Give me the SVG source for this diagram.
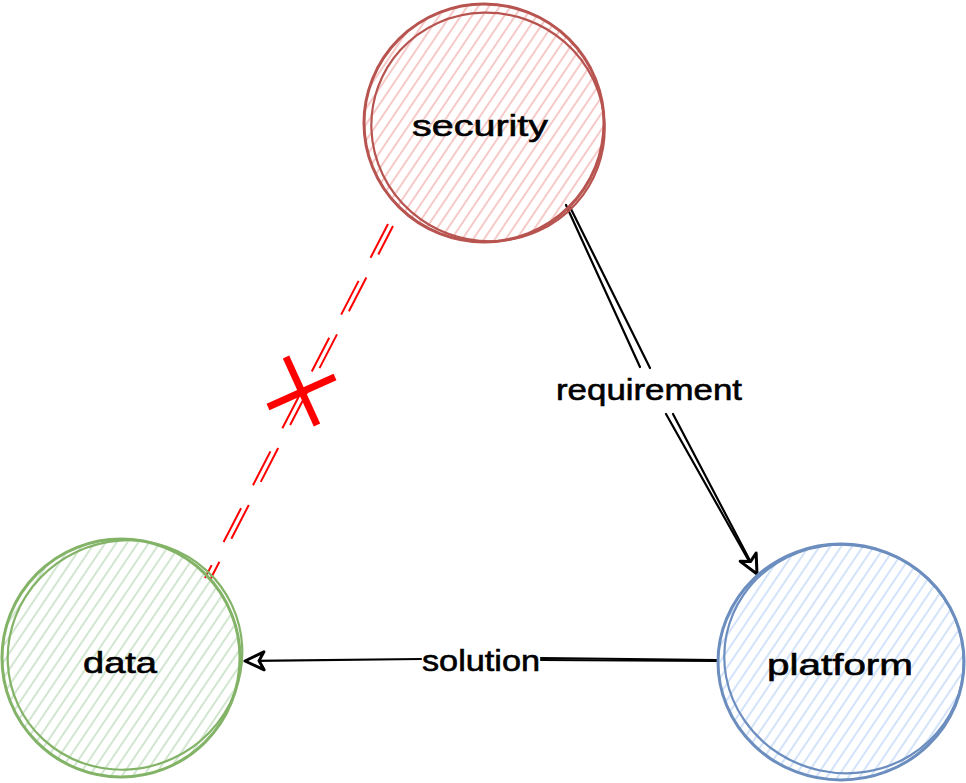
<svg xmlns="http://www.w3.org/2000/svg" width="966" height="783" viewBox="0 0 966 783">
<style>
.lbl{font-family:"Comic Sans MS","Liberation Sans","DejaVu Sans",sans-serif;font-size:30px;fill:#000;stroke:#000;stroke-width:0.6;text-anchor:middle}
.edge{fill:none;stroke:#000;stroke-width:2.2;stroke-linecap:round}
.red{fill:none;stroke:#ff0000;stroke-width:2;stroke-dasharray:38 26}
</style>
<defs>
<pattern id="hr" width="9" height="9" patternUnits="userSpaceOnUse" patternTransform="rotate(-56)"><line x1="0" y1="4" x2="9" y2="4" stroke="#f3bdba" stroke-width="1.6"/></pattern>
<pattern id="hg" width="9" height="9" patternUnits="userSpaceOnUse" patternTransform="rotate(-56)"><line x1="0" y1="4" x2="9" y2="4" stroke="#c6e0c4" stroke-width="1.6"/></pattern>
<pattern id="hb" width="9" height="9" patternUnits="userSpaceOnUse" patternTransform="rotate(-56)"><line x1="0" y1="4" x2="9" y2="4" stroke="#c8dcf8" stroke-width="1.6"/></pattern>
<marker id="arr" viewBox="0 0 26 26" refX="23" refY="13" markerWidth="26" markerHeight="26" markerUnits="userSpaceOnUse" orient="auto">
<path d="M23,13 L4,4 L9,13 L4,22 Z" fill="#fff" stroke="#000" stroke-width="3" stroke-linejoin="round"/>
</marker>
</defs>
<rect width="966" height="783" fill="#fff"/>
<g id="connectors">
<g id="edge-security-platform">
<line class="edge" x1="566" y1="205" x2="640" y2="367"/>
<line class="edge" x1="570" y1="207" x2="650" y2="368"/>
<line class="edge" x1="666" y1="414" x2="754" y2="570"/>
<line class="edge" x1="673" y1="414" x2="757" y2="574" marker-end="url(#arr)"/>
<text class="lbl" x="649" y="400" textLength="186" lengthAdjust="spacingAndGlyphs">requirement</text>
</g>
<g id="edge-platform-data">
<line class="edge" x1="717" y1="660" x2="541" y2="658"/>
<line class="edge" x1="717" y1="661" x2="541" y2="660" stroke-width="2.5"/>
<line class="edge" x1="421" y1="659" x2="245" y2="661" marker-end="url(#arr)"/>
<text class="lbl" x="481" y="671" textLength="118" lengthAdjust="spacingAndGlyphs">solution</text>
</g>
<g id="edge-security-data">
<line class="red" x1="388" y1="224" x2="205" y2="578"/>
<line class="red" x1="393" y1="226" x2="210" y2="580" stroke-dashoffset="6"/>
<line x1="268" y1="407" x2="335" y2="377" stroke="#ff0000" stroke-width="7"/>
<line x1="286" y1="357" x2="317" y2="425" stroke="#ff0000" stroke-width="7"/>
</g>
</g>
<g id="node-security">
<ellipse cx="484" cy="123" rx="120" ry="119" fill="url(#hr)"/>
<ellipse cx="484" cy="123" rx="120" ry="119" fill="none" stroke="#b85450" stroke-width="3"/>
<ellipse cx="488" cy="127" rx="117" ry="114" transform="rotate(20 488 127)" fill="none" stroke="#b85450" stroke-width="2.2"/>
<text class="lbl" x="480" y="136" textLength="136" lengthAdjust="spacingAndGlyphs">security</text>
</g>
<g id="node-data">
<ellipse cx="121" cy="658" rx="120" ry="120" fill="url(#hg)"/>
<ellipse cx="121" cy="658" rx="119" ry="119" fill="none" stroke="#82b366" stroke-width="3"/>
<ellipse cx="125" cy="655" rx="118" ry="114" transform="rotate(-25 125 655)" fill="none" stroke="#82b366" stroke-width="2.2"/>
<text class="lbl" x="120" y="673" textLength="74" lengthAdjust="spacingAndGlyphs">data</text>
</g>
<g id="node-platform">
<ellipse cx="841" cy="662" rx="123" ry="118" fill="url(#hb)"/>
<ellipse cx="841" cy="662" rx="123" ry="118" fill="none" stroke="#6c8ebf" stroke-width="3"/>
<ellipse cx="844" cy="659" rx="120" ry="114" transform="rotate(12 844 659)" fill="none" stroke="#6c8ebf" stroke-width="2.2"/>
<text class="lbl" x="840" y="675" textLength="146" lengthAdjust="spacingAndGlyphs">platform</text>
</g>
</svg>
